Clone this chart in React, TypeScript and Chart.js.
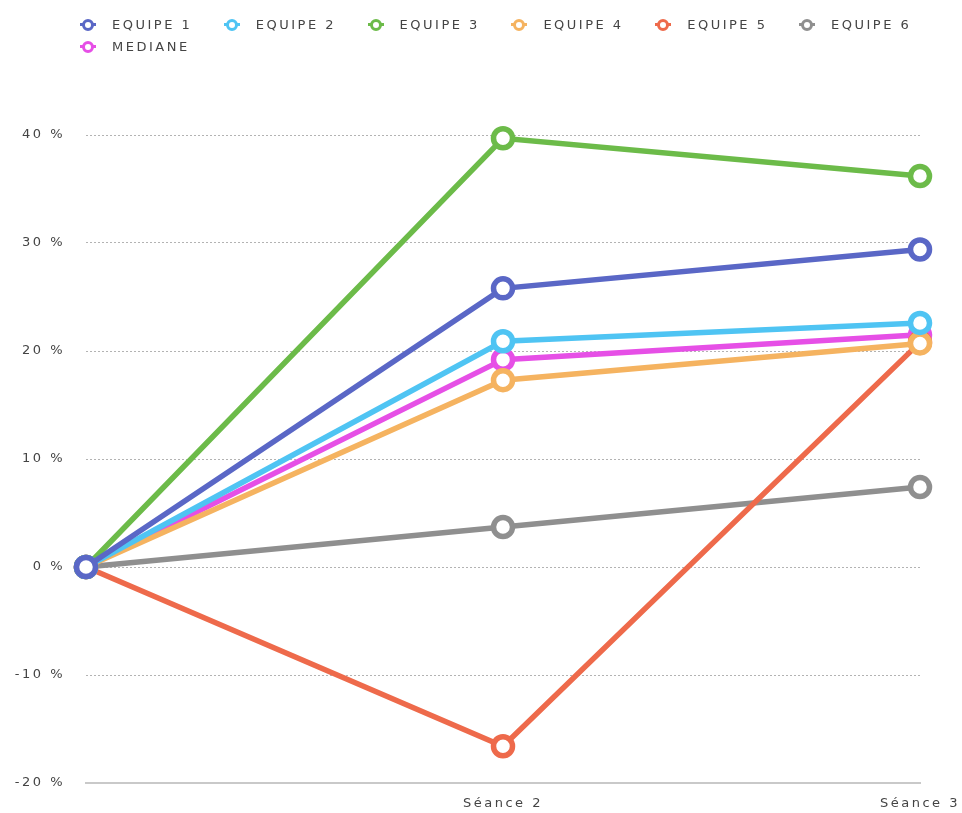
import React, { useEffect, useRef } from "react";
import { Chart, registerables } from "chart.js";

Chart.register(...registerables);

const categories = ["", "Séance 2", "Séance 3"];
const seriesNames = ["EQUIPE 1", "EQUIPE 2", "EQUIPE 3", "EQUIPE 4", "EQUIPE 5", "EQUIPE 6", "MEDIANE"];
const equipe1 = [0, 25.8, 29.4];
const equipe2 = [0, 20.9, 22.6];
const equipe3 = [0, 39.7, 36.2];
const equipe4 = [0, 17.3, 20.7];
const equipe5 = [0, -16.6, 20.8];
const equipe6 = [0, 3.7, 7.4];
const mediane = [0, 19.2, 21.5];
const seriesValues = [equipe1, equipe2, equipe3, equipe4, equipe5, equipe6, mediane];
const seriesColors = ["#5a67c6", "#4fc4f3", "#6cbb49", "#f5b360", "#ee6a4b", "#8f8f8f", "#e64fe6"];
const yTicks = [-20, -10, 0, 10, 20, 30, 40];

const FONT = "'DejaVu Sans', sans-serif";
const LETTER = "2.5px";

const spacingPlugin = {
  id: "spacing",
  beforeUpdate(chart: any) {
    (chart.ctx as any).letterSpacing = LETTER;
  },
  beforeLayout(chart: any) {
    (chart.ctx as any).letterSpacing = LETTER;
  },
  beforeDraw(chart: any) {
    (chart.ctx as any).letterSpacing = LETTER;
  },
};

export default function App() {
  const ref = useRef<HTMLCanvasElement | null>(null);

  useEffect(() => {
    if (!ref.current) return;
    const chart = new Chart(ref.current, {
      type: "line",
      data: {
        labels: categories,
        datasets: seriesNames.map((name, i) => ({
          label: name,
          data: seriesValues[i],
          borderColor: seriesColors[i],
          backgroundColor: "#ffffff",
          borderWidth: 5.5,
          pointRadius: 9.5,
          pointHoverRadius: 9.5,
          pointBorderWidth: 5.5,
          pointBackgroundColor: "#ffffff",
          pointBorderColor: seriesColors[i],
          tension: 0,
          clip: false as any,
        })),
      },
      options: {
        animation: false,
        responsive: true,
        maintainAspectRatio: false,
        layout: { padding: { left: 0, right: 42, top: 135, bottom: 0 } },
        plugins: {
          legend: { display: false },
          tooltip: { enabled: false },
        },
        scales: {
          x: {
            offset: false,
            afterFit(scale: any) {
              scale.height = 30;
              scale.paddingLeft = 0;
              scale.paddingRight = 0;
            },
            grid: { display: true, color: "rgba(0,0,0,0)", drawTicks: false },
            border: { display: true, color: "#c9c9c9", width: 2 },
            ticks: {
              padding: 13,
              color: "#444",
              font: { family: FONT, size: 13 },
              maxRotation: 0,
              autoSkip: false,
            },
          },
          y: {
            min: -20,
            max: 40,
            afterFit(scale: any) {
              scale.width = 86;
              scale.paddingTop = 0;
              scale.paddingBottom = 0;
            },
            afterBuildTicks(scale: any) {
              scale.ticks = yTicks.map((v) => ({ value: v }));
            },
            grid: {
              drawTicks: false,
              color: (ctx: any) => (ctx.tick && ctx.tick.value === -20 ? "rgba(0,0,0,0)" : "#b3b3b3"),
              lineWidth: 1,
            },
            border: { display: false, dash: [2, 2] },
            ticks: {
              padding: 21,
              color: "#444",
              font: { family: FONT, size: 13 },
              callback: (v: any) => `${v} %`,
            },
          },
        },
      },
      plugins: [spacingPlugin],
    });
    return () => chart.destroy();
  }, []);

  return (
    <div style={{ position: "absolute", left: 0, top: 0, width: 962, height: 813, overflow: "hidden", background: "#fff" }}>
      <canvas ref={ref} style={{ position: "absolute", left: 0, top: 0, width: 962, height: 813 }} />
      {seriesNames.map((name, i) => (
        <div
          key={name}
          style={{
            position: "absolute",
            left: 80 + (i % 6) * 143.8,
            top: i < 6 ? 16 : 38,
            height: 16,
            display: "flex",
            alignItems: "center",
            fontFamily: FONT,
            fontSize: 13,
            letterSpacing: LETTER,
            color: "#444",
            whiteSpace: "nowrap",
          }}
        >
          <span style={{ position: "relative", width: 16, height: 12, marginRight: 16, display: "inline-block" }}>
            <span style={{ position: "absolute", left: 0, top: 5, width: 16, height: 3, background: seriesColors[i] }} />
            <span
              style={{
                position: "absolute",
                left: 2,
                top: 1,
                width: 6,
                height: 6,
                border: `3px solid ${seriesColors[i]}`,
                borderRadius: "50%",
                background: "#fff",
              }}
            />
          </span>
          {name}
        </div>
      ))}
    </div>
  );
}
